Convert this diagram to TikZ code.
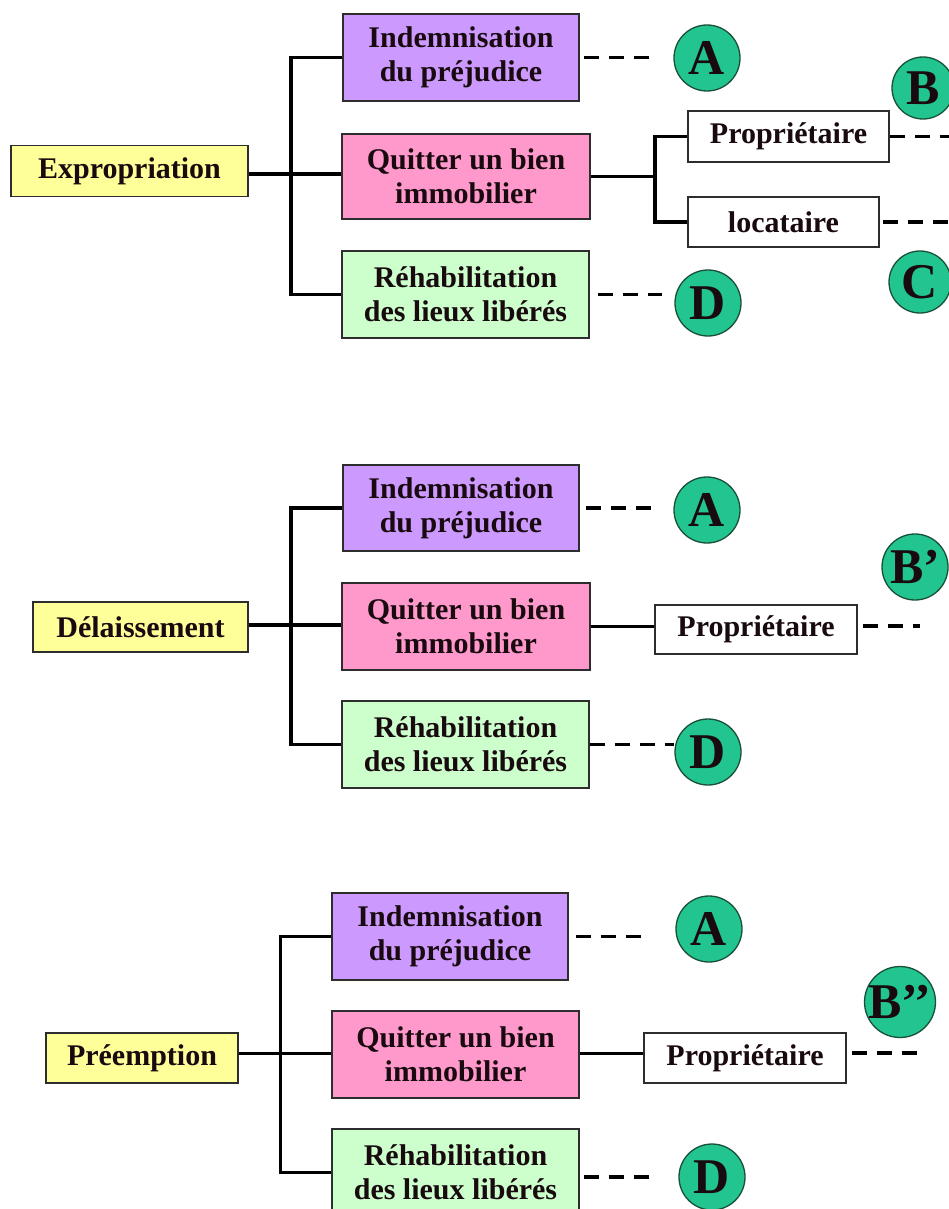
\documentclass[tikz,border=0pt]{standalone}
\usepackage{fontspec}
\setmainfont{Liberation Serif}
\usetikzlibrary{calc}
\definecolor{purpbox}{RGB}{204,153,255}
\definecolor{pinkbox}{RGB}{255,153,204}
\definecolor{greenbox}{RGB}{204,255,204}
\definecolor{yelbox}{RGB}{255,255,153}
\definecolor{circfill}{RGB}{34,196,143}
\definecolor{circline}{RGB}{25,80,55}
\definecolor{boxline}{RGB}{45,45,45}
\definecolor{txt}{RGB}{25,10,15}
\begin{document}
\begin{tikzpicture}[x=1pt,y=-1pt,
  box/.style={draw=boxline, line width=1.6pt, inner sep=0pt, align=center,
    font=\fontsize{30}{34}\selectfont\bfseries, text=txt},
  circ/.style={circle, draw=circline, line width=1.3pt, fill=circfill, inner sep=0pt,
    minimum size=66pt, font=\fontsize{50}{50}\selectfont\bfseries, text=txt},
  conn/.style={line width=3.5pt, draw=black},
  dline/.style={line width=3.5pt, draw=black, dash pattern=on 15pt off 10pt}]
\useasboundingbox[fill=white] (0,0) rectangle (949,1209);

% ================= Section 1 : Expropriation =================
\node[box, fill=yelbox, minimum width=237pt, minimum height=51pt] (expro) at (129.5,171) {Expropriation};
\node[box, fill=purpbox, minimum width=236pt, minimum height=87pt] (ind1) at (461,57.5) {Indemnisation\\du préjudice};
\node[box, fill=pinkbox, minimum width=248pt, minimum height=85pt] (quit1) at (466,176.5) {Quitter un bien\\immobilier};
\node[box, fill=greenbox, minimum width=247pt, minimum height=87pt] (reh1) at (465.5,294.5) {Réhabilitation\\des lieux libérés};
\node[box, fill=white, minimum width=201pt, minimum height=51pt] (prop1) at (788.5,136.5) {Propriétaire};
\node[box, fill=white, minimum width=191pt, minimum height=50pt] (loc1) at (783.5,222) {locataire};
\node[circ] (A1) at (707,58) {A};
\node[circ, minimum size=62pt] (B1) at (923,88) {B};
\node[circ, minimum size=62pt] (C1) at (920,282) {C};
\node[circ] (D1) at (708,303) {D};
\coordinate (j1) at (291,174);
\coordinate (k1) at (655,176);
\coordinate (e1) at (949,136.5);
\coordinate (f1) at (949,222);
\draw[conn] (ind1.west) -| (j1) |- (reh1.west);
\draw[conn] (expro.east |- j1) -- (quit1.west |- j1);
\draw[conn] (prop1.west) -| (k1) |- (loc1.west);
\draw[conn] (quit1.east) -- (quit1.east -| k1);
\draw[dline] ([xshift=4pt]ind1.east) -- ([xshift=-22pt]A1.west |- ind1.east);
\draw[dline] ([xshift=8pt]reh1.east) -- ([xshift=-12pt]D1.west |- reh1.east);
\draw[dline] (prop1.east) -- (e1);
\draw[dline] ([xshift=3pt]loc1.east) -- (f1);

% ================= Section 2 : Délaissement =================
\node[box, fill=yelbox, minimum width=215pt, minimum height=50pt] (del) at (140.5,627) {Délaissement};
\node[box, fill=purpbox, minimum width=236pt, minimum height=86pt] (ind2) at (461,508) {Indemnisation\\du préjudice};
\node[box, fill=pinkbox, minimum width=248pt, minimum height=87pt] (quit2) at (466,626.5) {Quitter un bien\\immobilier};
\node[box, fill=greenbox, minimum width=247pt, minimum height=87pt] (reh2) at (465.5,744.5) {Réhabilitation\\des lieux libérés};
\node[box, fill=white, minimum width=202pt, minimum height=49pt] (prop2) at (756,629.5) {Propriétaire};
\node[circ] (A2) at (707,510) {A};
\node[circ] (B2) at (915,567) {B’};
\node[circ] (D2) at (708,752) {D};
\coordinate (j2) at (291,625);
\coordinate (e2) at (920,626);
\draw[conn] (ind2.west) -| (j2) |- (reh2.west);
\draw[conn] (del.east |- j2) -- (quit2.west |- j2);
\draw[conn] (quit2.east) -- (quit2.east -| prop2.west);
\draw[dline] ([xshift=6pt]ind2.east) -- ([xshift=-21pt]A2.west |- ind2.east);
\draw[dline] (reh2.east) -- (D2.west |- reh2.east);
\draw[dline] ([xshift=5pt]prop2.east |- e2) -- (e2);

% ================= Section 3 : Préemption =================
\node[box, fill=yelbox, minimum width=192pt, minimum height=50pt] (pre) at (142,1058) {Préemption};
\node[box, fill=purpbox, minimum width=236pt, minimum height=87pt] (ind3) at (450,936.5) {Indemnisation\\du préjudice};
\node[box, fill=pinkbox, minimum width=247pt, minimum height=87pt] (quit3) at (455.5,1054.5) {Quitter un bien\\immobilier};
\node[box, fill=greenbox, minimum width=247pt, minimum height=87pt] (reh3) at (455.5,1172.5) {Réhabilitation\\des lieux libérés};
\node[box, fill=white, minimum width=202pt, minimum height=50pt] (prop3) at (745,1058) {Propriétaire};
\node[circ] (A3) at (709,929) {A};
\node[circ] (B3) at (900,1002) {B’’};
\node[circ] (D3) at (712,1177) {D};
\coordinate (j3) at (280,1053);
\coordinate (e3) at (918,1053);
\draw[conn, line width=3pt] (ind3.west) -| (j3) |- (reh3.west);
\draw[conn, line width=3pt] (pre.east |- j3) -- (quit3.west |- j3);
\draw[conn, line width=3pt] (quit3.east |- j3) -- (prop3.west |- j3);
\draw[dline] ([xshift=7pt]ind3.east) -- ([xshift=-34pt]A3.west |- ind3.east);
\draw[dline] ([xshift=4pt]reh3.east |- D3) -- ([xshift=-29pt]D3.west);
\draw[dline] ([xshift=5pt]prop3.east |- e3) -- (e3);
\end{tikzpicture}
\end{document}
